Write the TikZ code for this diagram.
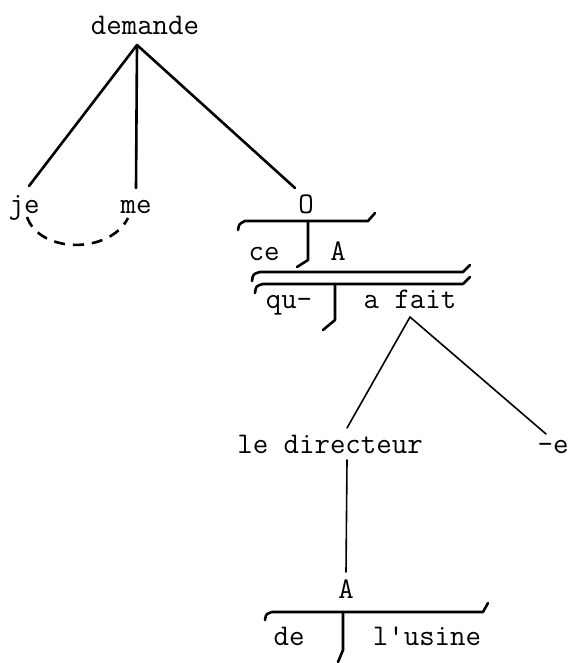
\documentclass[tikz,border=0pt]{standalone}
\usepackage{fontspec}
\begin{document}
\begin{tikzpicture}[x=1pt,y=-1pt,
  word/.style={font=\ttfamily\fontsize{30}{34}\selectfont, anchor=base, inner sep=0pt},
  heavy/.style={line width=2.6pt, line cap=round},
  light/.style={line width=1.6pt, line cap=round},
  brk/.style={line width=2.6pt, line cap=round, line join=round},
  tie/.style={line width=2.6pt, dash pattern=on 11pt off 8pt}]
\useasboundingbox (0,0) rectangle (568,663);
% words
\node[word] (demande) at (145,35) {demande};
\node[word] (je) at (24,213) {je};
\node[word] (me) at (136,213) {me};
\node[word] (O) at (306,213) {O};
\node[word] (ce) at (264,260) {ce};
\node[word] (A1) at (338,260) {A};
\node[word] (qu) at (289,308) {qu-};
\node[word] (afait) at (410,308) {a fait};
\node[word] (dir) at (330,453) {le directeur};
\node[word] (e) at (553,453) {-e};
\node[word] (A2) at (346,598) {A};
\node[word] (de) at (289,645) {de};
\node[word] (usine) at (427,645) {l'usine};
% connector ends
\coordinate (apex) at (137,45);
\coordinate (jeT) at (29,186);
\coordinate (meT) at (136,188);
\coordinate (OT) at (295,188);
\coordinate (jeB) at (27,217);
\coordinate (meB) at (128,218);
\coordinate (fait) at (410,317);
\coordinate (dirT) at (347,428);
\coordinate (eT) at (546,434);
\coordinate (dirB) at (347,460);
\coordinate (A2T) at (346,572);
% upper tree
\draw[heavy] (apex) -- (jeT);
\draw[heavy] (apex) -- (meT);
\draw[heavy] (apex) -- (OT);
\draw[tie] (jeB) .. controls (40,254) and (110,254) .. (meB);
% bracket under O
\draw[brk] (238,230) .. controls (239,224) .. (245,221) -- (368,221) -- (375,213);
\draw[brk] (308,221) -- (308,260) -- (297,267);
% double bracket under A
\draw[brk] (252,281) .. controls (253,274) .. (260,272) -- (463,272) -- (470,265);
\draw[brk] (255,293) .. controls (256,286) .. (263,284) -- (463,284) -- (470,277);
\draw[brk] (335,284) -- (335,320) -- (323,330);
% lower tree
\draw[light] (fait) -- (dirT);
\draw[light] (fait) -- (eT);
\draw[light] (dirB) -- (A2T);
% bracket under A2
\draw[brk] (265,620) .. controls (266,614) .. (272,612) -- (483,612) -- (488,603);
\draw[brk] (343,612) -- (343,650) -- (338,662);
\end{tikzpicture}
\end{document}
